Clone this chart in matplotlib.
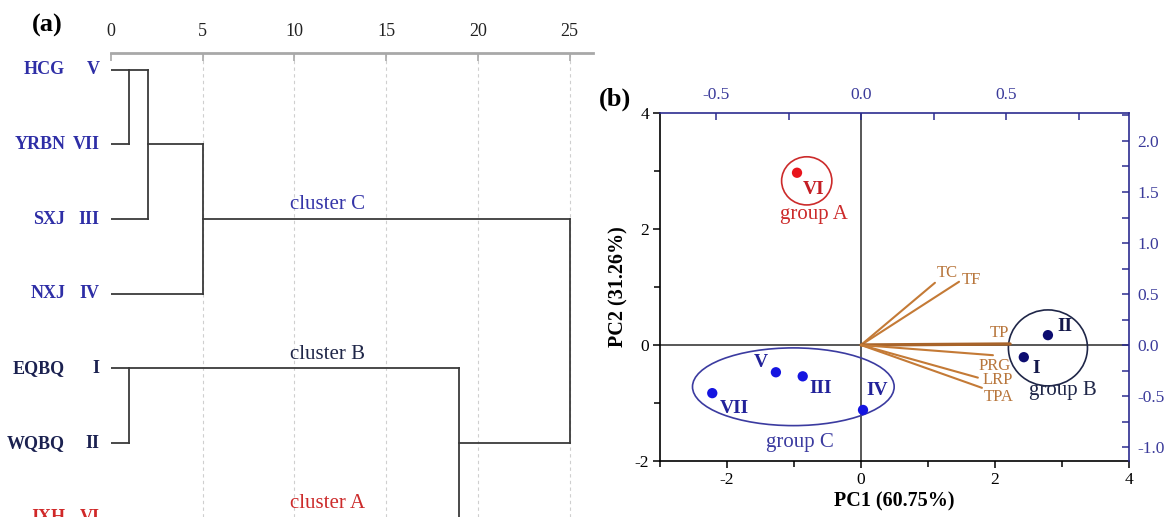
import matplotlib
matplotlib.use('Agg')
import matplotlib.pyplot as plt
from matplotlib.patches import Ellipse
from matplotlib.ticker import MultipleLocator, FormatStrFormatter

plt.rcParams['font.family'] = ['Liberation Serif', 'DejaVu Serif']
plt.rcParams['axes.unicode_minus'] = False

# ---- (a) dendrogram data ----
leaf_names = ['HCG', 'YRBN', 'SXJ', 'NXJ', 'EQBQ', 'WQBQ', 'JXH']
leaf_nums = ['V', 'VII', 'III', 'IV', 'I', 'II', 'VI']
leaf_cols = ['#2e2ea6', '#2e2ea6', '#2e2ea6', '#2e2ea6', '#1b2150', '#1b2150', '#d02828']
# merges: cluster ids (leaves 0-6, merges 7+), rescaled distance, row of the output line
merge_a = [0, 7, 8, 4, 10, 9]
merge_b = [1, 2, 3, 5, 6, 11]
merge_dist = [1.0, 2.0, 5.0, 1.0, 19.0, 25.0]
merge_row = [0, 1, 2, 4, 5, None]
cluster_names = ['cluster C', 'cluster B', 'cluster A']
cluster_rows = [2, 4, 6]
cluster_cols = ['#3535a8', '#1f2648', '#cc2b2b']
dist_ticks = [0, 5, 10, 15, 20, 25]

# ---- (b) PCA data ----
site_names = ['VI', 'V', 'III', 'VII', 'IV', 'II', 'I']
pc1 = [-0.955, -1.27, -0.87, -2.22, 0.03, 2.79, 2.43]
pc2 = [2.97, -0.47, -0.54, -0.83, -1.12, 0.17, -0.21]
site_cols = ['#e8141c', '#1515e0', '#1515e0', '#1515e0', '#1515e0', '#0d0d70', '#0d0d70']
site_lab_cols = ['#c41e24', '#22229a', '#22229a', '#22229a', '#22229a', '#14184a', '#14184a']
var_names = ['TC', 'TF', 'TP', 'PRG', 'LRP', 'TPA']
load1 = [0.255, 0.338, 0.514, 0.455, 0.403, 0.417]
load2 = [0.61, 0.62, 0.01, -0.10, -0.32, -0.42]
group_names = ['group A', 'group B', 'group C']
group_cx = [-0.81, 2.79, -1.01]
group_cy = [2.83, -0.05, -0.72]
group_w = [0.75, 1.18, 3.01]
group_h = [0.83, 1.31, 1.34]
group_cols = ['#cc2b2b', '#1f2648', '#3b3ba0']

W, H = 1165, 517
fig = plt.figure(figsize=(W / 100, H / 100), dpi=100)

# ================= (a) =================
ax_a = fig.add_axes([111 / W, 0, (593 - 111) / W, 1 - 52.5 / H])
ax_a.set_xlim(0, (593 - 111) / 18.34)
ax_a.set_ylim(5.99, -0.23)
for s in ['left', 'right', 'bottom']:
    ax_a.spines[s].set_visible(False)
ax_a.spines['top'].set_color('#a8a8a8')
ax_a.spines['top'].set_linewidth(2)
ax_a.xaxis.tick_top()
ax_a.set_xticks(dist_ticks)
ax_a.tick_params(axis='x', direction='in', length=6, width=1.2, color='#a8a8a8',
                 labelsize=13, pad=9, labelcolor='#222222')
ax_a.set_yticks([])
for t in dist_ticks[1:]:
    ax_a.axvline(t, color='#cfcfcf', lw=0.8, ls=(0, (3, 3)), zorder=0)

row = {i: i for i in range(len(leaf_names))}
dist = {i: 0.0 for i in range(len(leaf_names))}
lc = '#3a3a3a'
for k in range(len(merge_dist)):
    d = merge_dist[k]
    a, b = merge_a[k], merge_b[k]
    for c in (a, b):
        ax_a.plot([dist[c], d], [row[c], row[c]], color=lc, lw=1.3)
    ax_a.plot([d, d], [row[a], row[b]], color=lc, lw=1.3)
    cid = len(leaf_names) + k
    row[cid] = merge_row[k]
    dist[cid] = d

for i in range(len(leaf_names)):
    ax_a.annotate(leaf_names[i], xy=(0, i), xytext=(-33, 0), textcoords='offset points',
                  ha='right', va='center', fontsize=13, fontweight='bold',
                  color=leaf_cols[i], annotation_clip=False)
    ax_a.annotate(leaf_nums[i], xy=(0, i), xytext=(-8, 0), textcoords='offset points',
                  ha='right', va='center', fontsize=13, fontweight='bold',
                  color=leaf_cols[i], annotation_clip=False)

for name, r, c in zip(cluster_names, cluster_rows, cluster_cols):
    ax_a.annotate(name, xy=(11.8, r), xytext=(0, 3.5), textcoords='offset points',
                  ha='center', va='bottom', fontsize=15, color=c, annotation_clip=False)

fig.text(47 / W, 1 - 25 / H, '(a)', fontsize=19, fontweight='bold', ha='center', va='center')

# ================= (b) =================
pos_b = [660 / W, 1 - 461 / H, 469 / W, 348 / H]
ax_b = fig.add_axes(pos_b)
ax_b.set_xlim(-3, 4)
ax_b.set_ylim(-2, 4)
ax_b.spines['top'].set_visible(False)
ax_b.spines['right'].set_visible(False)
for s in ['left', 'bottom']:
    ax_b.spines[s].set_linewidth(1.2)
ax_b.xaxis.set_major_locator(MultipleLocator(2))
ax_b.xaxis.set_minor_locator(MultipleLocator(1))
ax_b.yaxis.set_major_locator(MultipleLocator(2))
ax_b.yaxis.set_minor_locator(MultipleLocator(1))
ax_b.tick_params(which='both', direction='out', width=1.1, labelsize=12.5)
ax_b.tick_params(which='major', length=5)
ax_b.tick_params(which='minor', length=4)
ax_b.tick_params(axis='x', pad=3)
ax_b.tick_params(axis='y', pad=3)
ax_b.axhline(0, color='#4a4a4a', lw=1.3, zorder=1)
ax_b.axvline(0, color='#4a4a4a', lw=1.3, zorder=1)

for i in range(3):
    ax_b.add_patch(Ellipse((group_cx[i], group_cy[i]), group_w[i], group_h[i],
                           fill=False, ec=group_cols[i], lw=1.2, zorder=2))
grp_off = [(5, -24), (11, -31), (5, -40)]
for i in range(3):
    ax_b.annotate(group_names[i], xy=(group_cx[i], group_cy[i]), xytext=grp_off[i],
                  textcoords='offset points', ha='center', va='center',
                  fontsize=15, color=group_cols[i])

ax_b.scatter(pc1, pc2, s=55, c=site_cols, zorder=4, edgecolors='none')
site_off = [(12, -12), (-11, 7), (13, -9), (16, -11), (10, 14), (12, 6), (9, -8)]
for i in range(len(site_names)):
    ax_b.annotate(site_names[i], xy=(pc1[i], pc2[i]), xytext=site_off[i],
                  textcoords='offset points', ha='center', va='center',
                  fontsize=14, fontweight='bold', color=site_lab_cols[i])

fig.text(894 / W, 1 - 501 / H, 'PC1 (60.75%)', fontsize=14.5, fontweight='bold',
         ha='center', va='center')
fig.text(618 / W, 1 - 287 / H, 'PC2 (31.26%)', fontsize=14.5, fontweight='bold',
         ha='center', va='center', rotation=90)
fig.text(615 / W, 1 - 99 / H, '(b)', fontsize=19, fontweight='bold', ha='center', va='center')

# loadings on top / right axes
kx = 67 / 290
ky = 58 / 102
navy = '#2c2c90'
ax_l = fig.add_axes(pos_b)
ax_l.patch.set_visible(False)
ax_l.set_xlim(-3 * kx, 4 * kx)
ax_l.set_ylim(-2 * ky, 4 * ky)
ax_l.spines['left'].set_visible(False)
ax_l.spines['bottom'].set_visible(False)
for s in ['top', 'right']:
    ax_l.spines[s].set_color(navy)
    ax_l.spines[s].set_linewidth(1.2)
ax_l.xaxis.tick_top()
ax_l.yaxis.tick_right()
ax_l.xaxis.set_major_locator(MultipleLocator(0.5))
ax_l.xaxis.set_minor_locator(MultipleLocator(0.25))
ax_l.yaxis.set_major_locator(MultipleLocator(0.5))
ax_l.yaxis.set_minor_locator(MultipleLocator(0.25))
ax_l.xaxis.set_major_formatter(FormatStrFormatter('%.1f'))
ax_l.yaxis.set_major_formatter(FormatStrFormatter('%.1f'))
ax_l.tick_params(which='both', direction='in', length=5, width=1.1, color=navy,
                 labelsize=12.5, labelcolor='#3a3a9a')
ax_l.tick_params(axis='x', pad=7)
ax_l.tick_params(axis='y', pad=6)

vec_col = '#c47a36'
var_off = [(9, 7), (9, 1), (-8, 8), (1, -7.5), (14, -2), (12, -6.5)]
for i in range(len(var_names)):
    lw = 2.4 if var_names[i] == 'TP' else 1.5
    col = '#a8642a' if var_names[i] == 'TP' else vec_col
    ax_l.plot([0, load1[i]], [0, load2[i]], color=col, lw=lw, solid_capstyle='round')
    ax_l.annotate(var_names[i], xy=(load1[i], load2[i]), xytext=var_off[i],
                  textcoords='offset points', ha='center', va='center',
                  fontsize=12, color='#b8763c')

plt.savefig('out.png', dpi=100)
